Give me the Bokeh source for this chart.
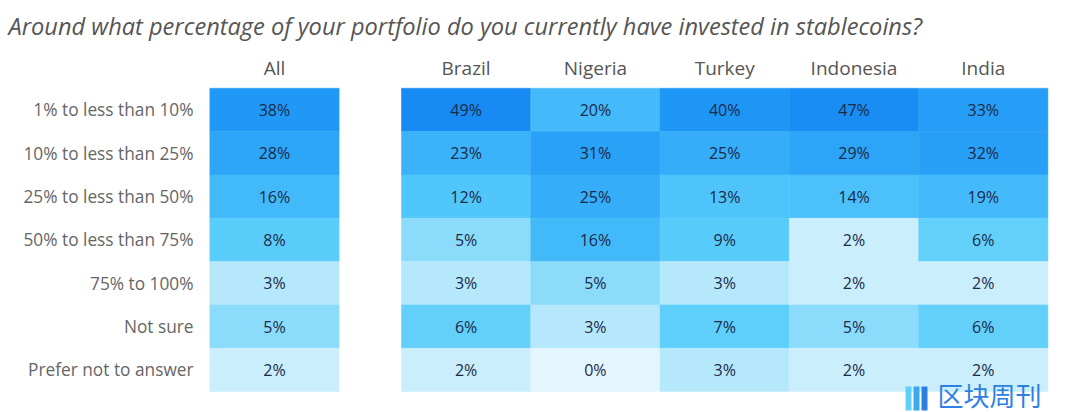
import numpy as np
from bokeh.plotting import figure
from bokeh.models import ColumnDataSource, Label, Range1d, BoxAnnotation
from bokeh.core.properties import value
from bokeh.embed import file_html
from bokeh.resources import INLINE

title_text = "Around what percentage of your portfolio do you currently have invested in stablecoins?"
columns = ["All", "Brazil", "Nigeria", "Turkey", "Indonesia", "India"]
rows = ["1% to less than 10%", "10% to less than 25%", "25% to less than 50%",
        "50% to less than 75%", "75% to 100%", "Not sure", "Prefer not to answer"]

all_vals = [38, 28, 16, 8, 3, 5, 2]
brazil = [49, 23, 12, 5, 3, 6, 2]
nigeria = [20, 31, 25, 16, 5, 3, 0]
turkey = [40, 25, 13, 9, 3, 7, 3]
indonesia = [47, 29, 14, 2, 2, 5, 2]
india = [33, 32, 19, 6, 2, 6, 2]
series = [all_vals, brazil, nigeria, turkey, indonesia, india]

# colour scale anchors (value -> rgb)
anchor_v = [0, 2, 3, 5, 6, 9, 13, 16, 20, 25, 30, 40, 49]
anchor_c = ["#E4F6FD", "#CBEEFC", "#B6E8FC", "#8BDCFA", "#62D0FA", "#57CBFA",
            "#4FC4FA", "#42B9F9", "#44BAFA", "#35ADF8", "#2AA2F7", "#1E96F6", "#178AF3"]


def hex2rgb(h):
    return [int(h[i:i + 2], 16) for i in (1, 3, 5)]


anchor_rgb = np.array([hex2rgb(c) for c in anchor_c])


def colour(v):
    r = [int(round(np.interp(v, anchor_v, anchor_rgb[:, k]))) for k in range(3)]
    return "#%02x%02x%02x" % tuple(r)


# layout in cell units
col_x = [0.0] + [1.482 + i for i in range(5)]
xs, ys, fills, labels = [], [], [], []
for ci, vals in enumerate(series):
    for ri, v in enumerate(vals):
        xs.append(col_x[ci])
        ys.append(-ri)
        fills.append(colour(v))
        labels.append(f"{v}%")
src = ColumnDataSource(dict(x=xs, y=ys, fill=fills, label=labels))

W, H = 1072, 412
p = figure(width=W, height=H, output_backend="svg", toolbar_location=None,
           x_range=Range1d(-2.119, 6.172), y_range=Range1d(-6.983, 2.525),
           min_border=0, min_border_left=0, min_border_right=0,
           min_border_top=0, min_border_bottom=0)
p.axis.visible = False
p.grid.visible = False
p.outline_line_color = None
p.background_fill_color = "white"
p.border_fill_color = "white"

p.rect(x="x", y="y", width=1.0, height=1.0, fill_color="fill", line_color="fill",
       line_width=0.5, source=src)
p.text(x="x", y="y", text="label", source=src, text_align="center",
       text_baseline="middle", text_font=value("Open Sans"), text_font_size="16px",
       text_color="#1b2a48")

hsrc = ColumnDataSource(dict(x=col_x, y=[0.96] * len(columns), t=columns))
p.text(x="x", y="y", text="t", source=hsrc, text_align="center",
       text_baseline="middle", text_font=value("Open Sans"), text_font_size="19px",
       text_color="#555555")

rsrc = ColumnDataSource(dict(x=[-0.626] * len(rows), y=[-i for i in range(len(rows))], t=rows))
p.text(x="x", y="y", text="t", source=rsrc, text_align="right",
       text_baseline="middle", text_font=value("Open Sans"), text_font_size="17.3px",
       text_color="#666666")

p.add_layout(Label(x=8, y=H - 25, x_units="screen", y_units="screen", text=title_text,
                   text_font="Open Sans", text_font_style="italic", text_font_size="23.6px",
                   text_color="#555555", text_baseline="middle", text_align="left"))

# watermark
p.add_layout(Label(x=937, y=0, x_units="screen", y_units="screen", text="区块周刊",
                   text_font="Noto Sans CJK SC", text_font_size="26px",
                   text_color="#2E80E2", text_baseline="bottom", text_align="left"))
for l, r, c in [(905, 911, "#5FD0F6"), (913, 919, "#3AAAF0"), (921, 927, "#2A7FE0")]:
    p.add_layout(BoxAnnotation(left=l, right=r, bottom=2, top=26, left_units="screen",
                               right_units="screen", bottom_units="screen", top_units="screen",
                               fill_color=c, fill_alpha=1.0, line_color=None))

open("out.html", "w").write(file_html(p, INLINE))
